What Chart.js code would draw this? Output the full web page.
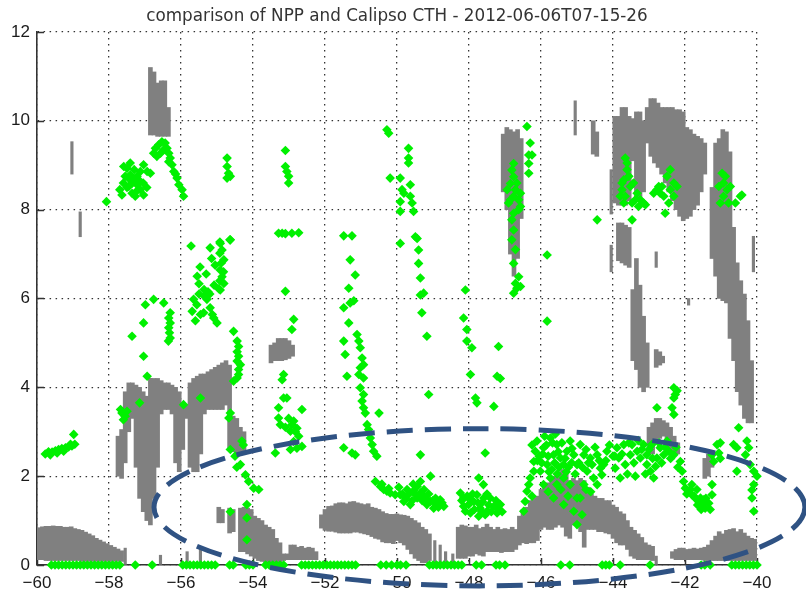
<!DOCTYPE html>
<html>
<head>
<meta charset="utf-8">
<script src="https://cdn.jsdelivr.net/npm/chart.js@4/dist/chart.umd.min.js"></script>
<style>
  html, body { margin: 0; padding: 0; background: #ffffff; }
  #wrap { width: 806px; height: 591px; }
</style>
</head>
<body>
<div id="wrap"><canvas id="cth" width="806" height="591"></canvas></div>
<script>
// Axis ticks and labels
const xTicks = [-60, -58, -56, -54, -52, -50, -48, -46, -44, -42, -40];
const xTickLabels = ['\u221260', '\u221258', '\u221256', '\u221254', '\u221252', '\u221250', '\u221248', '\u221246', '\u221244', '\u221242', '\u221240'];
const yTicks = [0, 2, 4, 6, 8, 10, 12];
const yTickLabels = ['0', '2', '4', '6', '8', '10', '12'];

// Calipso cloud layers: [latitude, cloud base km, cloud top km]
const calipsoLowWest = [
  [-59.95,0.12,0.84],[-59.85,0.12,0.86],[-59.75,0.1,0.87],[-59.65,0.1,0.87],[-59.55,0.1,0.88],
  [-59.45,0.1,0.87],[-59.35,0.1,0.87],[-59.25,0.1,0.85],[-59.15,0.1,0.85],[-59.05,0.1,0.86],
  [-58.95,0.1,0.82],[-58.85,0.1,0.8],[-58.75,0.08,0.78],[-58.65,0.08,0.74],[-58.55,0.08,0.7],
  [-58.45,0.08,0.66],[-58.35,0.08,0.6],[-58.25,0.08,0.56],[-58.15,0.08,0.52],[-58.05,0.08,0.48],
  [-57.95,0.08,0.44],[-57.85,0.08,0.4],[-57.75,0.08,0.36],[-57.65,0.08,0.32]
];
const calipsoMidWest = [
  [-57.75,2.0,2.9],[-57.65,1.95,3.05],[-57.55,2.3,3.9],[-57.45,3.0,4.1],[-57.35,3.3,4.1],
  [-57.25,2.2,4.05],[-57.15,1.5,4.0],[-57.05,1.2,3.9],[-56.95,1.0,3.8],[-56.85,0.9,4.2],
  [-56.75,1.5,4.2],[-56.65,2.2,4.2],[-56.55,3.4,4.15],[-56.45,3.5,4.1],[-56.35,3.5,4.1],
  [-56.25,3.4,4.05],[-56.15,2.3,4.0],[-56.05,2.1,3.9],[-55.95,2.6,3.6],[-55.85,3.3,3.6],
  [-55.75,2.2,4.1],[-55.65,2.1,4.2],[-55.55,2.1,4.25],[-55.45,2.5,4.3],[-55.35,3.4,4.3],
  [-55.25,3.5,4.35],[-55.15,3.5,4.4],[-55.05,3.5,4.45],[-54.95,3.5,4.5],[-54.85,3.5,4.55],
  [-54.75,3.6,4.6],[-54.65,2.6,4.5],[-54.55,2.55,3.35],[-54.45,2.5,3.3],[-54.35,2.5,3.1],
  [-54.25,2.55,3.0],
  [-53.5,4.55,4.95],[-53.4,4.6,5.0],[-53.3,4.6,5.1],[-53.2,4.6,5.1],[-53.1,4.62,5.1],
  [-53.0,4.65,5.05],[-52.9,4.7,4.95]
];
const calipsoHighWest = [
  [-56.85,9.68,11.2],[-56.75,9.68,11.1],[-56.65,9.65,10.85],[-56.55,9.65,10.9],
  [-56.45,9.65,10.9],[-56.35,9.65,10.3]
];
const calipsoLowCentral = [
  [-54.95,0.95,1.3],[-54.85,0.95,1.25],[-54.65,0.72,1.28],[-54.55,0.75,1.25],
  [-54.35,0.3,1.28],[-54.25,0.3,1.3],[-54.15,0.25,1.28],[-54.05,0.2,1.25],[-53.95,0.15,1.1],
  [-53.85,0.1,1.05],[-53.75,0.08,1.0],[-53.65,0.05,0.9],[-53.55,0.05,0.85],[-53.45,0.05,0.8],
  [-53.35,0.05,0.6],[-53.25,0.05,0.5],[-53.15,0.1,0.25],[-53.05,0.12,0.25],[-52.95,0.12,0.45],
  [-52.85,0.12,0.45],[-52.75,0.12,0.4],[-52.65,0.12,0.42],[-52.55,0.12,0.38],[-52.45,0.12,0.4],
  [-52.35,0.12,0.38],[-52.25,0.12,0.3],
  [-52.1,0.83,1.13],[-52.0,0.78,1.25],[-51.9,0.76,1.32],[-51.8,0.76,1.33],[-51.7,0.74,1.38],
  [-51.6,0.72,1.4],[-51.5,0.72,1.4],[-51.4,0.72,1.38],[-51.3,0.72,1.42],[-51.2,0.74,1.43],
  [-51.1,0.74,1.4],[-51.0,0.72,1.38],[-50.9,0.7,1.36],[-50.8,0.68,1.38],[-50.7,0.64,1.3],
  [-50.6,0.6,1.28],[-50.5,0.58,1.25],[-50.4,0.52,1.2],[-50.3,0.5,1.16],[-50.2,0.5,1.14],
  [-50.1,0.48,1.14],[-50.0,0.55,1.15],[-49.9,0.5,1.13],[-49.8,0.45,1.12],[-49.7,0.35,1.1],
  [-49.6,0.25,1.05],[-49.5,0.15,1.0],[-49.4,0.1,0.95],[-49.3,0.05,0.85],[-49.2,0.05,0.8],
  [-49.1,0.1,0.7],[-48.3,0.15,0.85],[-48.2,0.15,0.9],[-48.1,0.15,0.88],[-48.0,0.2,0.85],
  [-47.9,0.2,0.85],[-47.8,0.25,0.9],[-47.7,0.22,0.82],[-47.6,0.2,0.85],[-47.5,0.3,0.92],
  [-47.4,0.3,0.85],[-47.3,0.3,0.8],[-47.2,0.3,0.85],[-47.1,0.28,0.8],[-47.0,0.3,0.82],
  [-46.9,0.3,0.8],[-46.8,0.3,0.85],[-46.7,0.35,0.8],[-46.6,0.45,1.1],[-46.5,0.5,1.25],
  [-46.4,0.48,1.3],[-46.3,0.5,1.45],[-46.2,0.5,1.5],[-46.1,0.55,1.55],[-46.0,0.8,1.7],
  [-45.9,0.85,1.8],[-45.8,0.8,1.85],[-45.7,0.8,1.95],[-45.6,0.85,2.0],[-45.5,0.9,2.1],
  [-45.4,0.85,2.15],[-45.3,0.65,2.15],[-45.2,0.6,1.9],[-45.1,0.9,1.95],[-45.0,0.9,1.9],
  [-44.9,0.75,1.95],[-44.8,0.4,1.9],[-44.7,0.8,1.75],[-44.6,0.8,1.6],[-44.5,0.8,1.55],
  [-44.4,0.75,1.5],[-44.3,0.75,1.5],[-44.2,0.72,1.45],[-44.1,0.7,1.45],[-44.0,0.6,1.35],
  [-43.9,0.5,1.3],[-43.8,0.45,1.2],[-43.7,0.45,1.15],[-43.6,0.35,1.0],[-43.5,0.2,0.85],
  [-43.4,0.15,0.78],[-43.3,0.12,0.7],[-43.2,0.12,0.62],[-43.1,0.12,0.5],[-43.0,0.12,0.45],
  [-42.9,0.1,0.42]
];
const calipsoEast = [
  [-47.05,8.4,9.7],[-46.95,8.0,9.85],[-46.85,7.0,9.8],[-46.75,6.5,9.75],[-46.65,6.9,9.8],
  [-46.55,7.8,9.6],
  [-44.55,9.25,10.0],[-44.45,9.2,9.75],
  [-43.95,8.15,10.1],[-43.85,8.1,10.1],[-43.75,8.1,10.3],[-43.65,8.1,10.3],[-43.55,8.2,10.1],
  [-43.45,9.1,10.05],[-43.35,8.2,10.2],[-43.25,8.2,10.2],[-43.15,8.4,10.0],
  [-43.85,6.85,7.7],[-43.75,6.8,7.7],[-43.65,6.75,7.65],[-43.55,6.7,7.6],
  [-43.45,4.6,6.2],[-43.35,4.4,6.9],[-43.25,4.0,6.3],[-43.15,3.9,5.6],[-43.05,4.0,5.0],
  [-42.8,4.45,4.85],[-42.7,4.5,4.8],[-42.62,4.55,4.7],
  [-43.0,2.5,3.1],[-42.9,2.5,3.2],[-42.8,2.75,3.3],[-42.7,2.85,3.3],[-42.6,2.9,3.25],
  [-42.5,2.7,3.2],[-42.4,2.6,3.1],[-42.3,2.5,2.9],[-42.2,2.5,2.75],
  [-43.05,9.5,10.3],[-42.95,9.2,10.5],[-42.85,9.05,10.5],[-42.75,8.95,10.4],[-42.65,8.8,10.3],
  [-42.55,8.6,10.3],[-42.45,8.4,10.3],[-42.35,8.2,10.3],[-42.25,8.0,10.25],[-42.15,7.85,10.25],
  [-42.05,7.75,10.2],[-41.95,7.8,9.85],[-41.85,7.85,9.8],[-41.75,8.0,9.7],[-41.65,8.1,9.65],
  [-41.55,8.4,9.6],[-41.45,8.8,9.5],
  [-41.45,1.95,2.4],[-41.35,2.0,2.5],[-41.25,2.2,2.45],
  [-41.25,6.9,8.5],[-41.15,6.5,9.5],[-41.05,6.0,9.6],[-40.95,5.95,9.8],[-40.85,5.9,9.75],
  [-40.75,5.1,9.3],[-40.65,4.6,7.6],[-40.55,3.9,6.8],[-40.45,3.6,6.4],[-40.35,3.3,6.1],
  [-40.25,3.2,5.5],[-40.15,3.2,4.6],
  [-42.35,0.15,0.3],[-42.25,0.12,0.35],[-42.15,0.12,0.38],[-42.05,0.12,0.38],[-41.95,0.12,0.35],
  [-41.85,0.12,0.36],[-41.75,0.12,0.38],[-41.65,0.12,0.36],[-41.55,0.12,0.38],[-41.45,0.1,0.4],
  [-41.35,0.1,0.45],[-41.25,0.1,0.55],[-41.15,0.1,0.65],[-41.05,0.1,0.75],[-40.95,0.1,0.7],
  [-40.85,0.1,0.78],[-40.75,0.1,0.8],[-40.65,0.1,0.82],[-40.55,0.1,0.75],[-40.45,0.1,0.8],
  [-40.35,0.1,0.72],[-40.25,0.1,0.65],[-40.15,0.1,0.6],[-40.05,0.1,0.58]
];
// Narrow single-profile returns
const calipsoThin = [
  [-59.03,8.8,9.53],[-58.8,7.39,7.95],[-57.55,0.0,0.38],[-56.57,0.0,0.22],[-55.83,0.0,0.3],
  [-55.46,0.05,0.35],[-48.95,0.05,0.55],[-48.8,0.0,0.45],[-48.65,0.05,0.3],[-48.45,0.0,0.25],
  [-45.05,9.68,10.45],[-44.05,7.9,8.9],[-44.05,6.6,7.2],[-42.8,6.7,7.05],[-42.8,0.0,0.2],
  [-41.9,5.85,6.0],[-40.1,6.6,7.4]
];

// NPP cloud top heights: [latitude, km]
const nppWest = [
  [-59.77,2.5],[-59.68,2.55],[-59.58,2.54],[-59.49,2.57],[-59.4,2.6],[-59.31,2.62],[-59.21,2.64],
  [-59.12,2.66],[-59.03,2.68],[-58.98,2.94],[-59.07,2.72],[-59.63,2.48],[-59.44,2.52],[-59.26,2.56],
  [-58.95,2.72],
  [-57.64,3.42],[-57.55,3.35],[-57.6,3.27],[-57.5,3.46],[-57.68,3.5],[-57.15,3.65],[-55.93,3.61],
  [-55.46,3.76],[-56.94,4.25],[-57.04,4.7],[-57.36,5.15],[-57.04,5.45],[-56.99,5.86],[-56.76,5.98],
  [-56.48,5.9],
  [-56.3,5.68],[-56.34,5.56],[-56.3,5.45],[-56.34,5.34],[-56.32,5.23],[-56.3,5.11],[-56.35,5.04],
  [-55.69,5.71],[-55.56,5.86],[-55.37,5.68],[-55.19,5.79],[-55.09,5.56],[-55.0,5.45],[-55.65,5.98],
  [-55.46,5.64],[-55.28,5.98],[-55.13,5.64],[-55.5,6.1],[-55.35,6.05],[-55.6,5.5],[-55.2,6.1],
  [-58.07,8.18],
  [-57.5,8.93],[-57.41,8.78],[-57.31,8.67],[-57.22,8.56],[-57.13,8.45],[-57.04,8.33],[-57.55,8.75],
  [-57.45,8.52],[-57.36,8.37],[-57.64,8.33],[-57.22,8.75],[-57.13,8.86],[-57.04,9.01],[-56.94,8.86],
  [-56.85,8.82],[-57.27,8.3],[-57.59,8.97],[-57.41,9.05],
  [-57.6,8.6],[-57.5,8.5],[-57.35,8.6],[-57.25,8.4],[-57.15,8.65],[-57.3,8.9],[-57.45,8.7],
  [-57.05,8.6],[-56.95,8.5],[-57.7,8.45],
  [-56.76,9.27],[-56.71,9.38],[-56.62,9.46],[-56.53,9.53],[-56.44,9.5],[-56.39,9.38],[-56.34,9.27],
  [-56.3,9.16],[-56.25,9.01],[-56.2,8.86],[-56.11,8.71],[-56.06,8.56],[-55.97,8.45],[-55.93,8.3],
  [-56.57,9.27],[-56.48,9.35],[-56.67,9.2],[-56.34,9.08],[-56.15,8.8],
  [-55.72,7.18],[-55.19,7.14],[-54.92,7.27],[-54.64,7.32],[-54.92,7.02],[-54.88,6.8],[-54.82,6.6],
  [-54.92,6.4],[-55.47,6.71],[-55.55,6.5],[-55.5,6.33],[-55.36,6.2],[-55.25,6.15],[-55.08,6.3],
  [-54.95,6.22],[-55.3,6.55],[-55.15,6.9],[-55.05,6.75],
  [-54.91,7.24],[-54.63,7.32],[-54.86,7.09],[-54.81,6.87],[-54.91,6.64],[-54.86,6.49],[-54.81,6.34],
  [-54.91,6.19],
  [-54.72,9.16],[-54.72,8.97],[-54.68,8.82],[-54.72,8.71],[-54.63,8.75],
  [-54.54,5.26],[-54.44,5.04],[-54.4,4.92],[-54.44,4.8],[-54.4,4.7],[-54.44,4.59],[-54.35,4.51],
  [-54.4,4.4],[-54.44,4.21],[-54.54,4.14],[-54.4,4.29],
  [-54.63,3.42],[-54.67,3.31],[-54.63,2.6],[-54.31,2.79],[-54.35,2.26],[-54.21,2.03],[-54.12,1.88],
  [-53.98,1.73],[-53.84,1.7],[-54.17,1.36],[-54.17,1.06],[-54.17,0.57],[-54.63,1.2],[-54.5,2.45],
  [-54.27,2.7],[-54.45,2.2]
];
const nppCentral = [
  [-53.1,9.33],[-53.1,8.97],[-53.06,8.86],[-53.01,8.75],[-53.01,8.6],
  [-50.28,9.8],[-50.23,9.72],[-50.19,8.71],
  [-53.29,7.47],[-53.19,7.47],[-53.1,7.46],[-52.92,7.47],[-52.73,7.48],
  [-51.48,7.41],[-51.25,7.41],[-51.3,6.87],[-51.16,6.53],[-51.34,6.23],[-53.1,6.16],
  [-52.87,5.53],[-52.92,5.3],
  [-53.15,4.29],[-53.19,4.17],[-53.15,3.76],[-53.06,3.76],[-53.29,3.54],[-53.29,3.31],[-53.24,3.16],
  [-52.87,3.24],[-52.92,3.16],[-52.78,3.08],[-52.96,3.01],[-52.82,3.0],[-52.87,2.78],[-52.78,2.63],
  [-52.64,3.5],[-52.64,2.67],[-53.38,2.52],[-52.96,2.6],[-53.01,3.3],[-53.1,3.1],[-52.73,2.9],
  [-51.48,5.79],[-51.3,5.9],[-51.2,5.95],[-51.34,5.45],[-51.48,5.04],[-51.44,4.74],[-51.39,4.25],
  [-51.11,5.19],[-51.06,5.04],[-51.02,4.89],[-50.97,4.66],[-50.93,4.51],[-51.02,4.44],[-51.06,4.29],
  [-50.93,4.21],[-51.02,3.99],[-50.93,3.84],[-50.97,3.69],[-50.93,3.54],[-50.88,3.42],[-50.83,3.16],
  [-50.79,3.05],[-50.74,2.86],[-50.69,2.71],[-50.65,2.56],[-50.56,2.45],[-50.5,3.42],[-51.48,2.64],
  [-51.25,2.52],[-51.16,2.48],
  [-50.6,1.88],[-50.46,1.77],[-50.37,1.7],[-50.28,1.66],[-50.19,1.62],[-50.05,1.58],[-50.42,1.82],
  [-50.23,1.72],
  [-49.68,9.38],[-49.68,9.16],[-49.68,9.05],
  [-49.91,8.71],[-49.86,8.45],[-49.81,8.37],[-49.63,8.56],[-49.63,8.3],[-49.58,8.15],[-49.54,7.96],
  [-49.91,8.18],[-49.91,7.96],
  [-49.49,7.39],[-49.44,7.35],[-49.4,7.09],[-49.4,6.79],[-49.35,6.46],[-49.35,6.08],[-49.26,6.12],
  [-49.91,7.24],[-48.1,6.19],
  [-49.31,5.68],[-49.17,5.15],[-49.12,3.84],[-49.35,2.48],
  [-48.15,5.56],[-48.06,5.3],[-48.06,5.04],[-47.92,4.89],[-47.96,4.29],[-47.82,3.76],[-47.78,3.65],
  [-47.31,3.57],[-47.18,4.92],[-47.22,4.25],[-47.13,4.2],[-47.55,2.52],[-47.73,1.96],[-47.6,1.81],
  [-49.91,1.58],[-49.72,1.7],[-49.54,1.67],[-49.44,1.51],[-49.26,1.55],[-49.07,1.43],[-48.89,1.36],
  [-48.7,1.32],[-49.35,1.88],[-49.07,2.0],[-49.81,1.43],[-49.63,1.36],[-49.17,1.36],[-48.98,1.28],
  [-49.44,1.77],[-48.8,1.47],
  [-49.95,1.75],[-49.85,1.6],[-49.76,1.5],[-49.67,1.6],[-49.58,1.45],[-49.5,1.6],[-49.35,1.62],
  [-49.3,1.45],[-49.2,1.5],[-49.12,1.6],[-49.0,1.45],[-48.93,1.5],[-48.85,1.3],[-48.75,1.4],
  [-49.55,1.82],[-49.25,1.7],
  [-48.24,1.62],[-48.15,1.51],[-48.01,1.36],[-47.87,1.43],[-47.69,1.28],[-47.5,1.21],[-47.31,1.32],
  [-47.13,1.36],[-47.96,1.17],[-47.73,1.1],[-47.55,1.13],[-47.22,1.17],[-48.1,1.21],[-47.41,1.51],
  [-47.59,1.51],[-47.78,1.58],[-48.15,1.32],
  [-48.2,1.45],[-48.05,1.55],[-47.95,1.45],[-47.85,1.25],[-47.75,1.4],[-47.65,1.2],[-47.62,1.42],
  [-47.45,1.35],[-47.38,1.2],[-47.25,1.45],[-47.18,1.25],[-47.08,1.2],[-47.5,1.6],[-47.9,1.6]
];
const nppEast = [
  [-45.83,6.98],[-45.83,5.49],
  [-46.39,9.87],[-46.3,9.5],[-46.34,9.23],[-46.25,9.23],[-46.34,9.04],[-46.34,8.82],[-46.76,9.04],
  [-46.81,8.89],[-46.76,8.74],[-46.85,8.59],[-46.71,8.45],[-46.76,8.3],[-46.85,8.22],[-46.9,8.15],
  [-46.62,8.22],[-46.57,8.37],[-46.57,8.07],[-46.76,7.92],[-46.81,7.77],[-46.76,7.54],[-46.81,7.32],
  [-46.71,7.1],[-46.76,6.79],[-46.62,6.49],[-46.71,6.34],[-46.67,6.23],[-46.57,6.27],[-46.76,6.12],
  [-46.94,8.45],[-46.67,8.6],[-46.62,8.0],
  [-46.48,1.21],[-46.44,1.43],[-46.39,1.66],[-46.34,1.81],[-46.3,1.96],[-46.2,2.11],[-46.2,2.33],
  [-46.16,2.56],[-46.11,2.79],[-45.93,2.64],[-45.74,2.86],[-45.65,2.48],[-45.56,2.71],[-45.46,2.41],
  [-45.37,2.26],[-45.28,2.56],[-45.19,2.79],[-45.09,2.48],[-45.0,2.26],[-45.83,2.26],[-46.02,2.11],
  [-45.93,1.81],[-45.74,1.96],[-45.56,1.81],[-45.37,1.96],[-45.19,1.81],[-45.0,1.51],[-45.65,1.51],
  [-45.37,1.36],[-45.09,1.21],[-45.0,0.91],[-45.9,2.9],[-45.6,2.95],[-45.5,2.2],[-45.8,2.45],
  [-46.05,2.45],[-45.3,2.1],[-45.15,2.3],[-45.7,2.15],
  [-46.25,2.7],[-46.1,2.35],[-45.98,2.3],[-45.85,2.7],[-45.78,2.1],[-45.68,2.75],[-45.62,2.3],
  [-45.52,2.55],[-45.42,2.75],[-45.33,2.4],[-45.24,2.2],[-45.14,2.62],[-45.05,2.05],[-45.45,1.7],
  [-45.25,1.55],[-45.8,1.65],[-46.25,1.55],[-45.55,2.05],[-45.95,2.5],
  [-44.91,2.71],[-44.81,2.48],[-44.63,2.41],[-44.44,2.48],[-44.26,2.26],[-44.72,2.11],[-44.54,1.96],
  [-44.35,2.18],[-44.81,1.81],[-44.44,1.81],[-44.91,1.51],[-44.86,1.13],[-44.17,2.56],[-44.58,2.26],
  [-44.31,2.03],
  [-44.95,2.3],[-44.85,2.2],[-44.75,2.6],[-44.68,2.3],[-44.5,2.65],[-44.38,2.35],[-44.2,2.35],
  [-44.1,2.7],[-44.0,2.45],[-44.75,1.7],[-44.62,1.65],
  [-43.89,2.64],[-43.84,2.41],[-43.94,2.18],[-43.8,1.96],[-43.66,2.26],[-43.52,2.48],[-43.38,2.0],
  [-43.7,2.71],
  [-43.95,2.45],[-43.75,2.5],[-43.6,2.05],[-43.56,2.75],[-43.42,2.3],[-43.3,2.8],[-43.2,2.6],
  [-43.1,2.05],[-43.0,2.6],[-42.9,2.4],[-42.72,2.75],[-42.65,2.3],[-42.55,2.65],[-42.4,2.4],
  [-42.25,2.65],[-42.2,2.2],
  [-43.47,2.71],[-43.33,2.56],[-43.24,2.41],[-43.15,2.71],[-43.06,2.26],[-42.96,2.11],[-42.87,1.96],
  [-42.78,2.41],[-42.69,2.64],[-42.59,2.48],[-42.45,2.56],[-42.31,2.48],[-43.06,2.48],[-42.82,2.22],
  [-42.92,2.71],[-42.5,2.79],
  [-42.78,3.54],[-42.31,3.99],[-42.27,3.84],[-42.31,3.76],[-42.36,3.54],[-42.31,3.39],[-42.22,3.92],
  [-42.13,2.33],[-42.08,2.11],[-42.04,1.88],[-41.99,1.73],[-41.9,1.66],[-41.81,1.58],[-41.71,1.5],
  [-41.62,1.43],[-41.53,1.36],[-41.44,1.28],[-41.34,1.39],[-41.25,1.58],[-41.81,1.81],[-41.67,1.7],
  [-41.57,1.51],[-41.48,1.47],[-41.25,1.81],
  [-41.95,1.6],[-41.85,1.7],[-41.75,1.55],[-41.65,1.35],[-41.55,1.25],[-41.42,1.5],[-41.3,1.25],
  [-41.2,2.33],[-41.11,2.71],[-41.02,2.75],[-41.06,2.52],[-41.02,2.4],[-41.25,2.48],
  [-40.51,3.09],[-40.65,2.71],[-40.56,2.64],[-40.28,2.79],[-40.23,2.64],[-40.56,2.11],[-40.32,2.48],
  [-40.19,2.26],[-40.09,2.11],[-40.09,1.81],[-40.14,1.51],[-40.09,1.21],[-40.14,1.69],[-40.0,2.0],
  [-44.44,7.77],[-43.47,7.77],
  [-43.66,9.16],[-43.61,8.9],[-43.7,8.67],[-43.75,8.45],[-43.66,8.3],[-43.52,8.52],[-43.43,8.6],
  [-43.33,8.37],[-43.24,8.22],[-43.15,8.15],[-43.29,8.07],[-43.47,8.15],[-43.8,8.3],[-43.7,8.15],
  [-43.56,8.75],[-43.38,8.22],[-43.1,8.11],[-43.61,9.05],[-43.75,8.6],
  [-42.78,8.45],[-42.64,8.52],[-42.5,8.75],[-42.41,8.9],[-42.31,8.6],[-42.59,8.3],[-42.69,8.37],
  [-42.55,7.92],[-42.45,8.15],[-42.73,8.52],[-42.31,8.3],[-42.87,8.37],[-42.41,8.45],[-42.22,8.52],
  [-40.97,8.82],[-40.93,8.6],[-40.83,8.45],[-40.74,8.52],[-41.02,8.15],[-40.79,8.15],[-40.6,8.15],
  [-40.93,8.3],[-40.46,8.3],[-40.42,8.33],[-41.06,8.52],[-40.88,8.75]
];
// NPP retrievals reporting clear sky (height 0): latitudes
const nppSurface = [
  -59.6,-59.5,-59.4,-59.3,-59.2,-59.1,-59.0,-58.9,-58.8,-58.7,-58.6,-58.5,-58.4,-58.3,-58.2,
  -58.1,-58.0,-57.9,-57.8,-57.7,-57.27,-56.8,
  -55.95,-55.85,-55.75,-55.65,-55.55,-55.45,-55.35,-55.25,-55.15,-55.05,
  -54.65,-54.55,-54.2,-54.1,-54.0,-53.65,-53.55,-53.45,-53.35,-53.25,-53.15,
  -52.65,-52.55,-52.45,-52.35,-52.25,-52.15,-52.05,-51.95,-51.85,-51.75,-51.65,-51.55,-51.45,
  -51.35,-51.25,-51.15,
  -50.45,-50.3,-50.15,-50.0,-49.9,-49.75,-49.1,-49.0,-48.9,-48.8,-48.7,-48.6,-48.5,-48.4,-48.3,
  -48.2,-47.8,-47.65,-47.25,-47.15,-47.0,-45.45,-45.2,-44.3,-44.2,-44.1,-43.8,-42.97,
  -41.55,-41.45,-41.3,-40.7,-40.6,-40.5,-40.4,-40.3,-40.2,-40.1,-40.0
];

// Highlighted region (dashed ellipse), in data units
const highlightCenter = [-47.71, 1.3];
const highlightRadii = [9.04, 1.77];

const GRAY = '#808080';
const GREEN = '#00f000';
const AXIS = '#333333';
const TICK_FONT = { family: '"Liberation Sans", Arial, sans-serif', size: 17 };

const toBars = rows => rows.map(r => ({ x: r[0], y: [r[1], r[2]] }));
const toPoints = rows => rows.map(r => ({ x: r[0], y: r[1] }));

function barSet(label, rows, thickness) {
  return {
    type: 'bar', label, data: toBars(rows), backgroundColor: GRAY, borderWidth: 0,
    barThickness: thickness, grouped: false, order: 2
  };
}

// Short inward tick marks on the left and bottom axes
const innerTicksPlugin = {
  id: 'innerTicks',
  beforeDatasetsDraw(chart) {
    const { ctx, chartArea: a, scales: { x, y } } = chart;
    ctx.save();
    ctx.strokeStyle = AXIS;
    ctx.lineWidth = 1.5;
    ctx.beginPath();
    xTicks.forEach(v => {
      const px = Math.round(x.getPixelForValue(v)) + 0.5;
      ctx.moveTo(px, a.bottom); ctx.lineTo(px, a.bottom - 7);
    });
    yTicks.forEach(v => {
      const py = Math.round(y.getPixelForValue(v)) + 0.5;
      ctx.moveTo(a.left, py); ctx.lineTo(a.left + 7, py);
    });
    ctx.stroke();
    ctx.restore();
  }
};

const ellipsePlugin = {
  id: 'highlightEllipse',
  afterDraw(chart) {
    const { ctx, scales: { x, y } } = chart;
    const cx = x.getPixelForValue(highlightCenter[0]);
    const cy = y.getPixelForValue(highlightCenter[1]);
    const rx = Math.abs(x.getPixelForValue(highlightCenter[0] + highlightRadii[0]) - cx);
    const ry = Math.abs(y.getPixelForValue(highlightCenter[1] + highlightRadii[1]) - cy);
    ctx.save();
    ctx.strokeStyle = '#2f5283';
    ctx.lineWidth = 5;
    ctx.setLineDash([26, 12]);
    ctx.beginPath();
    ctx.ellipse(cx, cy, rx, ry, 0, 0, Math.PI * 2);
    ctx.stroke();
    ctx.restore();
  }
};

new Chart(document.getElementById('cth'), {
  type: 'scatter',
  data: {
    datasets: [
      {
        type: 'scatter', label: 'NPP CTH',
        data: toPoints(nppWest.concat(nppCentral, nppEast)).concat(nppSurface.map(v => ({ x: v, y: 0 }))),
        pointStyle: 'rectRot', pointRadius: 4.8, backgroundColor: GREEN, borderColor: GREEN,
        borderWidth: 0, clip: false, order: 1
      },
      barSet('Calipso low west', calipsoLowWest, 4),
      barSet('Calipso mid west', calipsoMidWest, 4),
      barSet('Calipso high west', calipsoHighWest, 4),
      barSet('Calipso low central', calipsoLowCentral, 4),
      barSet('Calipso east', calipsoEast, 4),
      barSet('Calipso thin', calipsoThin, 2.5)
    ]
  },
  options: {
    responsive: false,
    animation: false,
    events: [],
    layout: { padding: { left: 0, right: 49, top: 0, bottom: 0 } },
    plugins: {
      legend: { display: false },
      tooltip: { enabled: false },
      title: {
        display: true,
        fullSize: false,
        text: 'comparison of NPP and Calipso CTH - 2012-06-06T07-15-26',
        color: '#333333',
        font: { family: '"DejaVu Sans", sans-serif', size: 16.8, weight: 'normal' },
        padding: { top: 6.2, bottom: 5.6 }
      }
    },
    scales: {
      x: {
        type: 'linear', min: -60, max: -40, offset: false,
        afterFit: s => { s.height = 26; },
        ticks: {
          stepSize: 2, padding: 8, color: '#1a1a1a', maxRotation: 0, font: TICK_FONT,
          callback: v => { const i = xTicks.indexOf(v); return i >= 0 ? xTickLabels[i] : ''; }
        },
        grid: { color: AXIS, lineWidth: 1.3, drawTicks: false, offset: false },
        border: { display: true, color: AXIS, width: 1.6, dash: [1.5, 4.5] }
      },
      y: {
        type: 'linear', min: 0, max: 12,
        afterFit: s => { s.width = 37; },
        ticks: {
          stepSize: 2, padding: 7, color: '#1a1a1a', font: TICK_FONT,
          callback: v => { const i = yTicks.indexOf(v); return i >= 0 ? yTickLabels[i] : ''; }
        },
        grid: { color: AXIS, lineWidth: 1.3, drawTicks: false },
        border: { display: true, color: AXIS, width: 1.6, dash: [1.5, 4.5] }
      }
    }
  },
  plugins: [innerTicksPlugin, ellipsePlugin]
});
</script>
</body>
</html>
